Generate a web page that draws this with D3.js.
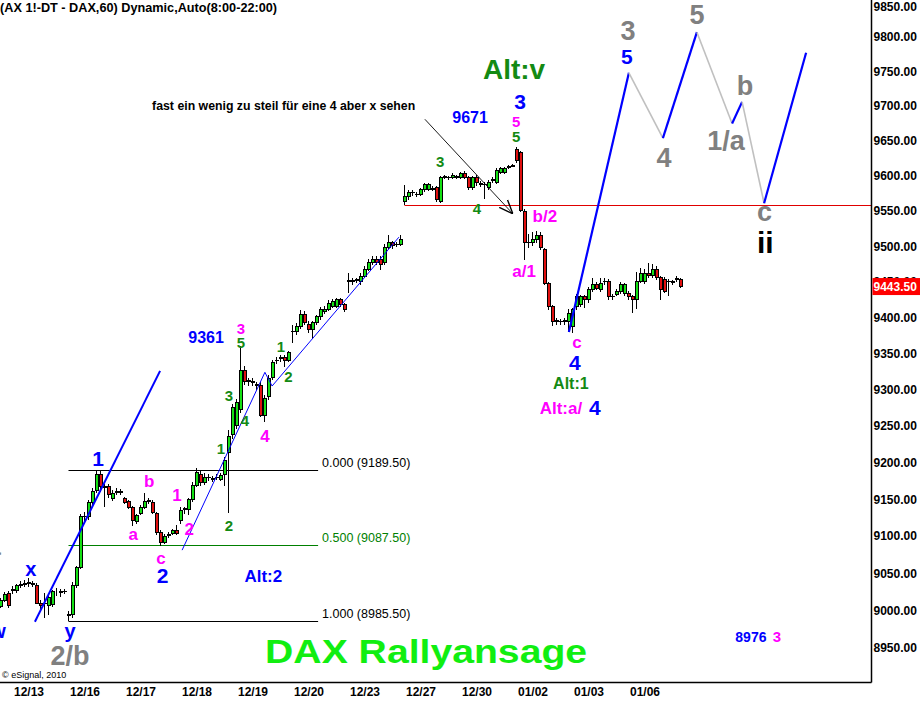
<!DOCTYPE html>
<html>
<head>
<meta charset="utf-8">
<script src="https://cdn.jsdelivr.net/npm/d3@7"></script>
<style>
body { margin: 0; background: #fff; }
svg { display: block; font-family: Arial, "Liberation Sans", sans-serif; font-weight: bold; }
</style>
</head>
<body>
<div id="chart"></div>
<script>
// hourly DAX future bars, 8:00-22:00
var opens = [9005,9014,9023,9027,9027,9034,9035,9037,9035,9033,9010,9009,9007,9008,9025,9024,9025,8993,8995,9034,
  9058,9126,9127,9145,9162,9183,9167,9167,9151,9159,9159,9151,9147,9139,9120,9131,9139,9147,9145,9131,
  9105,9091,9101,9103,9108,9121,9136,9136,9150,9169,9184,9172,9179,9177,9179,9177,9183,9213,9238,9251,
  9272,9327,9311,9311,9306,9306,9265,9290,9317,9340,9343,9344,9341,9380,9380,9387,9404,9391,9383,9393,
  9401,9408,9412,9416,9416,9425,9418,9451,9451,9452,9451,9458,9468,9477,9482,9482,9477,9499,9505,9502,
  9502,9563,9570,9576,9573,9573,9580,9580,9581,9583,9564,9598,9598,9597,9598,9598,9604,9598,9583,9598,
  9588,9587,9584,9594,9591,9605,9605,9612,9614,9637,9634,9549,9505,9505,9509,9516,9495,9448,9415,9395,
  9395,9396,9394,9387,9415,9418,9429,9425,9439,9446,9439,9450,9450,9429,9432,9436,9434,9434,9429,9425,
  9450,9450,9462,9459,9468,9456,9454,9450,9450,9454,9454];
var highs = [9017,9025,9026,9033,9036,9039,9041,9043,9040,9037,9014,9023,9020,9027,9030,9029,9029,8999,9038,9060,
  9130,9132,9149,9165,9189.5,9189,9170,9171,9162,9165,9164,9153,9149,9141,9130,9142,9159,9152,9149,9133,
  9108,9103,9105,9110,9115,9139,9140,9152,9173,9192,9190,9186,9184,9182,9184,9186,9207,9244,9280,9287,
  9360,9333,9316,9316,9311,9311,9292,9320,9341,9345,9348,9348,9354,9390,9392,9410,9409,9395,9396,9404,
  9415,9416,9424,9426,9428,9428,9420,9462,9456,9456,9462,9472,9482,9486,9486,9486,9503,9516,9508,9506,
  9516,9587,9580,9580,9577,9583,9590,9590,9585,9586,9600,9601,9600,9604,9601,9606,9607,9600,9600,9601,
  9592,9591,9594,9598,9611,9612,9613,9616,9617,9641,9636,9553,9518,9520,9522,9520,9498,9450,9418,9399,
  9398,9399,9412,9414,9433,9432,9432,9443,9456,9450,9455,9455,9454,9433,9440,9450,9449,9437,9432,9464,
  9470,9468,9477,9475,9472,9459,9457,9454,9453,9458,9456];
var lows = [9003,9012,9003,9022,9024,9030,9031,9032,9031,9008,9000,8990,8994,9004,9020,9018,9022,8985.5,8990,9030,
  9055,9120,9122,9140,9158,9160,9140,9152,9147,9156,9155,9144,9137,9114,9116,9128,9136,9144,9130,9102,
  9086,9089,9098,9101,9102,9117,9130,9128,9146,9166,9168,9169,9175,9174,9176,9175,9168,9131,9232,9246,
  9268,9306,9305,9305,9300,9262,9256,9286,9314,9336,9338,9332,9338,9365,9376,9384,9390,9378,9370,9390,
  9397,9405,9409,9413,9413,9415,9408,9434,9446,9448,9446,9455,9465,9474,9474,9467,9474,9496,9497,9499,
  9500,9559,9566,9572,9570,9571,9577,9578,9578,9563,9562,9595,9594,9595,9596,9596,9595,9580,9580,9585,
  9584,9567,9580,9590,9589,9603,9603,9610,9612,9618,9548,9481,9498,9500,9505,9495,9445,9410,9388,9390,
  9390,9390,9380,9378,9411,9415,9413,9420,9436,9438,9436,9446,9425,9425,9430,9433,9430,9425,9406,9412,
  9448,9447,9455,9456,9452,9425,9434,9430,9446,9450,9441];
var closes = [9014,9022,9006,9028,9033,9035,9036,9036,9036,9010,9006,9010,9018,9025,9025,9025,9026,8995,9034,9057,
  9126,9127,9145,9161,9183,9167,9166,9157,9158,9160,9160,9146,9139,9121,9128,9139,9147,9148,9132,9105,
  9091,9100,9102,9107,9104,9135,9137,9149,9168,9186,9172,9180,9180,9178,9180,9182,9203,9235,9276,9282,
  9327,9311,9312,9310,9307,9265,9288,9316,9337,9341,9344,9340,9351,9381,9387,9404,9393,9383,9393,9401,
  9412,9412,9420,9423,9425,9418,9411,9452,9452,9453,9458,9468,9477,9482,9477,9475,9499,9505,9501,9503,
  9509,9570,9576,9577,9574,9580,9587,9587,9582,9566,9598,9599,9597,9601,9599,9604,9597,9583,9597,9590,
  9589,9588,9591,9595,9608,9610,9611,9613,9615,9622,9551,9505,9506,9509,9516,9498,9448,9415,9394,9396,
  9394,9395,9406,9411,9429,9429,9425,9439,9446,9441,9448,9451,9429,9430,9436,9446,9446,9429,9425,9450,
  9462,9462,9459,9468,9456,9439,9437,9451,9449,9455,9443.5];

var dayLabels = ["12/13","12/16","12/17","12/18","12/19","12/20","12/23","12/27","12/30","01/02","01/03","01/06"];
var dayLabelBars = [7,21,35,49,63,77,91,105,119,133,147,161];
var priceTicks = [8950,9000,9050,9100,9150,9200,9250,9300,9350,9400,9450,9500,9550,9600,9650,9700,9750,9800,9850];
var lastPrice = 9443.5;

var fibNames = ["0.000","0.500","1.000"];
var fibPrices = [9189.5, 9087.5, 8985.5];
var fibBars = [17, 79.4];
var supportPrice = 9559;
var supportBar = 101;

var trendA = [[8.6, 8985], [39.9, 9326]];
var trendB = [[45.4, 9081], [66.1, 9324], [67.9, 9305], [99.6, 9513]];
var projBars = [142.1, 157.1, 165.6, 174.1, 182.9, 185.4, 190.9, 201.4];
var projPrices = [9380, 9748, 9654, 9807, 9675, 9706, 9561, 9777];
var arrowPts = [[106.1, 9681], [128.1, 9546]];

// wave counts: text, bar, price, kind
var labels = [
  ["Alt:v",128.4,9753.5,"altV"], ["9671",117.4,9683,"blue"], ["3",129.9,9706,"bigBlue"],
  ["5",128.9,9677,"magSmall"], ["5",128.9,9655.6,"green"], ["3",109.9,9620,"green"],
  ["4",119.1,9553,"green"], ["b/2",136.1,9543,"mag"], ["a/1",130.9,9465,"mag"],
  ["3",156.9,9810,"gray"], ["5",156.6,9772,"bigBlue"], ["5",174.1,9832,"gray"],
  ["4",165.9,9625.5,"gray"], ["1/a",181.4,9651,"gray"], ["b",186.1,9729,"gray"],
  ["c",191.0,9546,"gray"], ["ii",191.2,9505,"black"],
  ["c",144.1,9364.7,"mag"], ["4",143.6,9337,"bigBlue"], ["Alt:1",142.6,9309,"greenAlt"],
  ["Alt:a/",140.1,9274.7,"mag"], ["4",148.6,9274.7,"bigBlue"],
  ["9361",51.4,9373,"blue"], ["3",60.1,9384,"magSmall"], ["5",60.1,9364.7,"green"],
  ["1",70.1,9359,"green"], ["2",72.0,9317.5,"green"], ["3",57.1,9291,"green"],
  ["4",61.1,9256.8,"green"], ["4",66.1,9236,"mag"], ["1",55.1,9218.5,"green"],
  ["2",57.1,9114,"green"], ["1",44.1,9155.6,"mag"], ["2",47.2,9109.6,"mag"],
  ["b",37.2,9174.7,"mag"], ["a",33.2,9101.4,"mag"], ["c",40.1,9069,"mag"],
  ["2",40.5,9046.3,"bigBlue"], ["1",24.4,9204.7,"bigBlue"],
  ["x",7.6,9053,"blueLetter"], ["y",17.4,8970,"blueLetter"], ["w",-0.6,8970,"blueLetter"],
  ["2/b",17.4,8940.6,"gray"], ["a",-1.8,9084,"gray"], ["Alt:2",65.7,9046.3,"blueAlt"],
  ["8976",187.6,8965,"blueSmall"], ["3",194.1,8965,"magSmall"]
];
var noteText = "fast ein wenig zu steil für eine 4 aber x sehen";
var notePos = [37.9, 9700.6];
var rallyText = "DAX Rallyansage";
var rallyPos = [106.4, 8946];

var labelStyle = {
  bigBlue: ["#0000ff", 21], blue: ["#0000ff", 16], blueSmall: ["#0000ff", 14],
  blueLetter: ["#0000ff", 20], blueAlt: ["#0000ff", 17],
  mag: ["#ff00ff", 17], magSmall: ["#ff00ff", 15],
  green: ["#138a13", 15], greenAlt: ["#138a13", 16], altV: ["#138a13", 28],
  gray: ["#808080", 27], black: ["#000000", 30]
};

var w = 920, h = 702;
var svg = d3.select("#chart").append("svg")
    .attr("width", w)
    .attr("height", h);

var x = d3.scaleLinear().domain([0, 170]).range([0.5, 680.5]);
var y = d3.scaleLog().domain([8950, 9800]).range([648, 37]);
var axisX = 871.5, axisY = 682.5;

var plot = svg.append("g");

// fib retracement lines
var fibColors = ["#000", "#008000", "#000"];
fibPrices.forEach(function(p, k){
    plot.append("line")
        .attr("x1", x(fibBars[0])).attr("x2", x(fibBars[1]))
        .attr("y1", Math.round(y(p)) + 0.5).attr("y2", Math.round(y(p)) + 0.5)
        .attr("stroke", fibColors[k]).attr("stroke-width", 1.2);
    plot.append("text")
        .attr("x", x(fibBars[1]) + 4)
        .attr("y", y(p) - 3)
        .attr("fill", fibColors[k])
        .style("font-weight", "normal")
        .style("font-size", "12.5px")
        .text(fibNames[k] + " (" + d3.format(".2f")(p) + ")");
});

// support line
plot.append("line")
    .attr("x1", x(supportBar)).attr("x2", axisX)
    .attr("y1", Math.round(y(supportPrice)) + 0.5).attr("y2", Math.round(y(supportPrice)) + 0.5)
    .attr("stroke", "#e00000").attr("stroke-width", 1);

// candles
var bars = opens.map(function(o, i){
    return {i: i, o: o, h: highs[i], l: lows[i], c: closes[i]};
});

var candle = plot.selectAll(".candle")
    .data(bars)
    .enter().append("g")
    .attr("class", "candle")
    .attr("shape-rendering", "crispEdges");

candle.append("line")
    .attr("x1", function(d){ return x(d.i); })
    .attr("x2", function(d){ return x(d.i); })
    .attr("y1", function(d){ return y(d.h); })
    .attr("y2", function(d){ return y(d.l); })
    .attr("stroke", "#000");

candle.append("rect")
    .attr("x", function(d){ return x(d.i) - 1.5; })
    .attr("width", 3)
    .attr("y", function(d){ return y(Math.max(d.o, d.c)); })
    .attr("height", function(d){ return Math.abs(y(d.o) - y(d.c)); })
    .attr("fill", function(d){ return d.c >= d.o ? "#14e014" : "#e01010"; })
    .attr("stroke", "#000")
    .attr("stroke-width", 1);

// trend lines
var line = d3.line()
    .x(function(d){ return x(d[0]); })
    .y(function(d){ return y(d[1]); });

plot.append("path").attr("d", line(trendA))
    .attr("fill", "none").attr("stroke", "#0000ff").attr("stroke-width", 2);
plot.append("path").attr("d", line(trendB))
    .attr("fill", "none").attr("stroke", "#0000ff").attr("stroke-width", 1);

// projected wave path: up legs blue, down legs gray
for (var k = 0; k < projBars.length - 1; k++) {
    var up = projPrices[k + 1] > projPrices[k];
    plot.append("path")
        .attr("d", line([[projBars[k], projPrices[k]], [projBars[k + 1], projPrices[k + 1]]]))
        .attr("fill", "none")
        .attr("stroke", up ? "#0000ff" : "#c0c0c0")
        .attr("stroke-width", up ? 2.2 : 1.6);
}

// arrow
svg.append("defs").append("marker")
    .attr("id", "head")
    .attr("viewBox", "0 0 10 10")
    .attr("refX", 10).attr("refY", 5)
    .attr("markerWidth", 14).attr("markerHeight", 14)
    .attr("markerUnits", "userSpaceOnUse")
    .attr("orient", "auto")
    .append("path")
    .attr("d", "M0,1 L10,5 L0,9")
    .attr("fill", "none").attr("stroke", "#000").attr("stroke-width", 1);

plot.append("path").attr("d", line(arrowPts))
    .attr("fill", "none").attr("stroke", "#000").attr("stroke-width", 0.9)
    .attr("marker-end", "url(#head)");

// labels
plot.selectAll(".wave")
    .data(labels)
    .enter().append("text")
    .attr("class", "wave")
    .attr("x", function(d){ return x(d[1]); })
    .attr("y", function(d){ return y(d[2]); })
    .attr("dy", function(d){ return /^[acxwy]$/.test(d[0]) ? "0.27em" : "0.35em"; })
    .attr("text-anchor", "middle")
    .attr("fill", function(d){ return labelStyle[d[3]][0]; })
    .style("font-size", function(d){ return labelStyle[d[3]][1] + "px"; })
    .text(function(d){ return d[0]; });

plot.append("text")
    .attr("x", x(notePos[0]))
    .attr("y", y(notePos[1]))
    .attr("dy", "0.35em")
    .style("font-size", "12.3px")
    .text(noteText);

plot.append("text")
    .attr("x", x(rallyPos[0]))
    .attr("y", y(rallyPos[1]))
    .attr("dy", "0.35em")
    .attr("text-anchor", "middle")
    .attr("textLength", 322)
    .attr("lengthAdjust", "spacingAndGlyphs")
    .attr("fill", "#11ee11")
    .style("font-size", "34px")
    .text(rallyText);

// title and watermark
svg.append("text")
    .attr("x", 0).attr("y", 12)
    .style("font-size", "12.7px")
    .text("(AX 1!-DT - DAX,60) Dynamic,Auto(8:00-22:00)");

svg.append("text")
    .attr("x", 2).attr("y", 678)
    .style("font-size", "9px")
    .style("font-weight", "normal")
    .text("\u00a9 eSignal, 2010");

// axes
var yAxis = d3.axisRight(y)
    .tickValues(priceTicks)
    .tickSize(0)
    .tickPadding(2)
    .tickFormat(d3.format(".2f"));

var gy = svg.append("g")
    .attr("transform", "translate(" + axisX + ",0)")
    .call(yAxis);
gy.select(".domain").remove();
gy.selectAll("text")
    .attr("fill", "#000")
    .style("font-size", "12px")
    .style("font-family", "Arial, 'Liberation Sans', sans-serif")
    .style("font-weight", "bold")
    .attr("y", function(d){ return Math.max(0, 7 - y(d)); });

var xAxis = d3.axisBottom(x)
    .tickValues(dayLabelBars)
    .tickSize(0)
    .tickPadding(5)
    .tickFormat(function(d, i){ return dayLabels[i]; });

var gx = svg.append("g")
    .attr("transform", "translate(0," + axisY + ")")
    .call(xAxis);
gx.select(".domain").remove();
gx.selectAll("text")
    .attr("fill", "#000")
    .style("font-size", "12px")
    .style("font-family", "Arial, 'Liberation Sans', sans-serif")
    .style("font-weight", "bold");

svg.append("line")
    .attr("x1", axisX).attr("x2", axisX).attr("y1", 0).attr("y2", axisY)
    .attr("stroke", "#000").attr("stroke-width", 1.5);
svg.append("line")
    .attr("x1", 0).attr("x2", axisX).attr("y1", axisY).attr("y2", axisY)
    .attr("stroke", "#000").attr("stroke-width", 1.5);

// last price tag
var ly = y(lastPrice);
svg.append("rect")
    .attr("x", axisX + 1).attr("y", ly - 8.5)
    .attr("width", w - axisX).attr("height", 17)
    .attr("fill", "#ff0000");
svg.append("text")
    .attr("x", axisX + 2).attr("y", ly)
    .attr("dy", "0.35em")
    .attr("fill", "#fff")
    .style("font-size", "12px")
    .text(d3.format(".2f")(lastPrice));
</script>
</body>
</html>
